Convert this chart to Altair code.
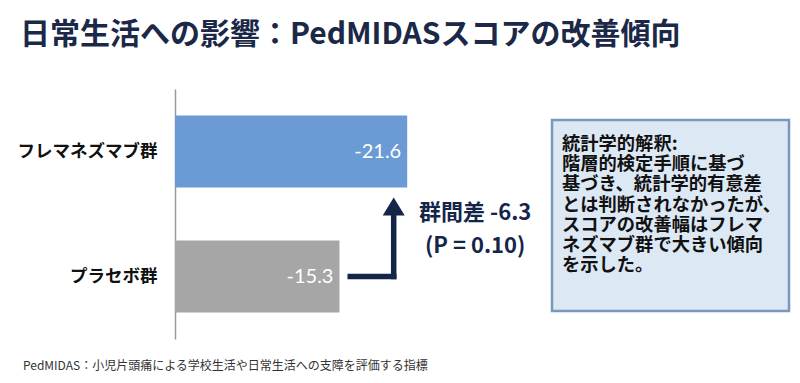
import altair as alt
import pandas as pd

# ---- data ----
groups = ["フレマネズマブ群", "プラセボ群"]
values = [-21.6, -15.3]
bar_colors = ["#6b9bd4", "#a6a6a6"]
p_value = 0.10

title_text = "日常生活への影響：PedMIDASスコアの改善傾向"
footnote_text = "PedMIDAS：小児片頭痛による学校生活や日常生活への支障を評価する指標"
note_lines = [
    "統計学的解釈:",
    "階層的検定手順に基づ",
    "基づき、統計学的有意差",
    "とは判断されなかったが、",
    "スコアの改善幅はフレマ",
    "ネズマブ群で大きい傾向",
    "を示した。",
]

NAVY = "#15254a"
JP = "Noto Sans CJK JP"

bars_df = pd.DataFrame({
    "group": groups,
    "value": values,
    "label": [f"{v:.1f}" for v in values],
})
diff = values[0] - values[1]
ann_df = pd.DataFrame({
    "active": [values[0]],
    "placebo": [values[1]],
    "g_act": [groups[0]],
    "g_pl": [groups[1]],
    "diff_label": [f"群間差 {diff:.1f}"],
    "p_label": [f"(P = {p_value:.2f})"],
})
one = pd.DataFrame({"k": [0]})

xscale = alt.Scale(domain=[-24, 0], reverse=True, nice=False, zero=True)
yscale = alt.Scale(domain=groups, paddingInner=0.424, paddingOuter=0.212)
yaxis = alt.Axis(
    title=None, ticks=False, labelPadding=18, labelFont=JP,
    labelFontSize=17.5, labelFontWeight="bold", labelColor="#111111",
    domainColor="#9a9a9a", domainWidth=1.5, labelLimit=300, grid=False)


def X(f):
    return alt.X(f, scale=xscale, axis=None, title=None)


def Y(f):
    return alt.Y(f, scale=yscale, axis=yaxis, title=None)


bars = alt.Chart(bars_df).mark_bar().encode(
    x=X("value:Q"),
    y=Y("group:N"),
    color=alt.Color("group:N", scale=alt.Scale(domain=groups, range=bar_colors), legend=None),
)

bar_labels = alt.Chart(bars_df).mark_text(
    align="right", baseline="middle", dx=-6, font="Lato", fontSize=20, color="white"
).encode(
    x=X("value:Q"),
    y=Y("group:N"),
    text="label:N",
)

arrow_h = alt.Chart(ann_df).mark_rule(
    color=NAVY, strokeWidth=5.5, xOffset=8, x2Offset=-10.75
).encode(
    x=X("placebo:Q"), x2="active:Q", y=Y("g_pl:N"),
)

arrow_v = alt.Chart(ann_df).mark_rule(
    color=NAVY, strokeWidth=5.5, xOffset=-13.5, yOffset=2.75, y2Offset=59
).encode(
    x=X("active:Q"), y=Y("g_pl:N"), y2="g_act:N",
)

arrow_head = alt.Chart(ann_df).mark_point(
    shape="M0,-0.82L1,0.82L-1,0.82Z", size=484, filled=True, color=NAVY,
    opacity=1, strokeWidth=0, xOffset=-13.5, yOffset=55
).encode(
    x=X("active:Q"), y=Y("g_act:N"),
)

diff_text = alt.Chart(ann_df).mark_text(
    align="center", baseline="middle", dx=68, dy=61, font=JP,
    fontSize=22, fontWeight="bold", color=NAVY
).encode(x=X("active:Q"), y=Y("g_act:N"), text="diff_label:N")

p_text = alt.Chart(ann_df).mark_text(
    align="center", baseline="middle", dx=68, dy=94, font=JP,
    fontSize=22, fontWeight="bold", color=NAVY
).encode(x=X("active:Q"), y=Y("g_act:N"), text="p_label:N")

box = alt.Chart(one).mark_rect(
    fill="#dde8f5", stroke="#7a97be", strokeWidth=2.5
).encode(
    x=alt.value(377), x2=alt.value(614), y=alt.value(31), y2=alt.value(222)
)

box_text = alt.Chart(one).mark_text(
    align="left", baseline="top", font=JP, fontSize=18.3, fontWeight="bold",
    color="#111111", lineHeight=20.2
).encode(x=alt.value(387), y=alt.value(47), text=alt.value(note_lines))

title = alt.Chart(one).mark_text(
    align="left", baseline="middle", font=JP, fontSize=30, fontWeight="bold",
    color="#1b2847"
).encode(x=alt.value(-155), y=alt.value(-54), text=alt.value(title_text))

footnote = alt.Chart(one).mark_text(
    align="left", baseline="middle", font=JP, fontSize=12, color="#333333"
).encode(x=alt.value(-152), y=alt.value(277), text=alt.value(footnote_text))

chart = alt.layer(
    bars, bar_labels, arrow_h, arrow_v, arrow_head, diff_text, p_text,
    box, box_text, title, footnote
).properties(
    width=258, height=250,
    autosize=alt.AutoSizeParams(type="none"),
    padding={"left": 167, "top": 81, "right": 359, "bottom": 36},
).configure_view(strokeWidth=0)

chart.save("out.html", embed_options={"renderer": "svg", "actions": False})
